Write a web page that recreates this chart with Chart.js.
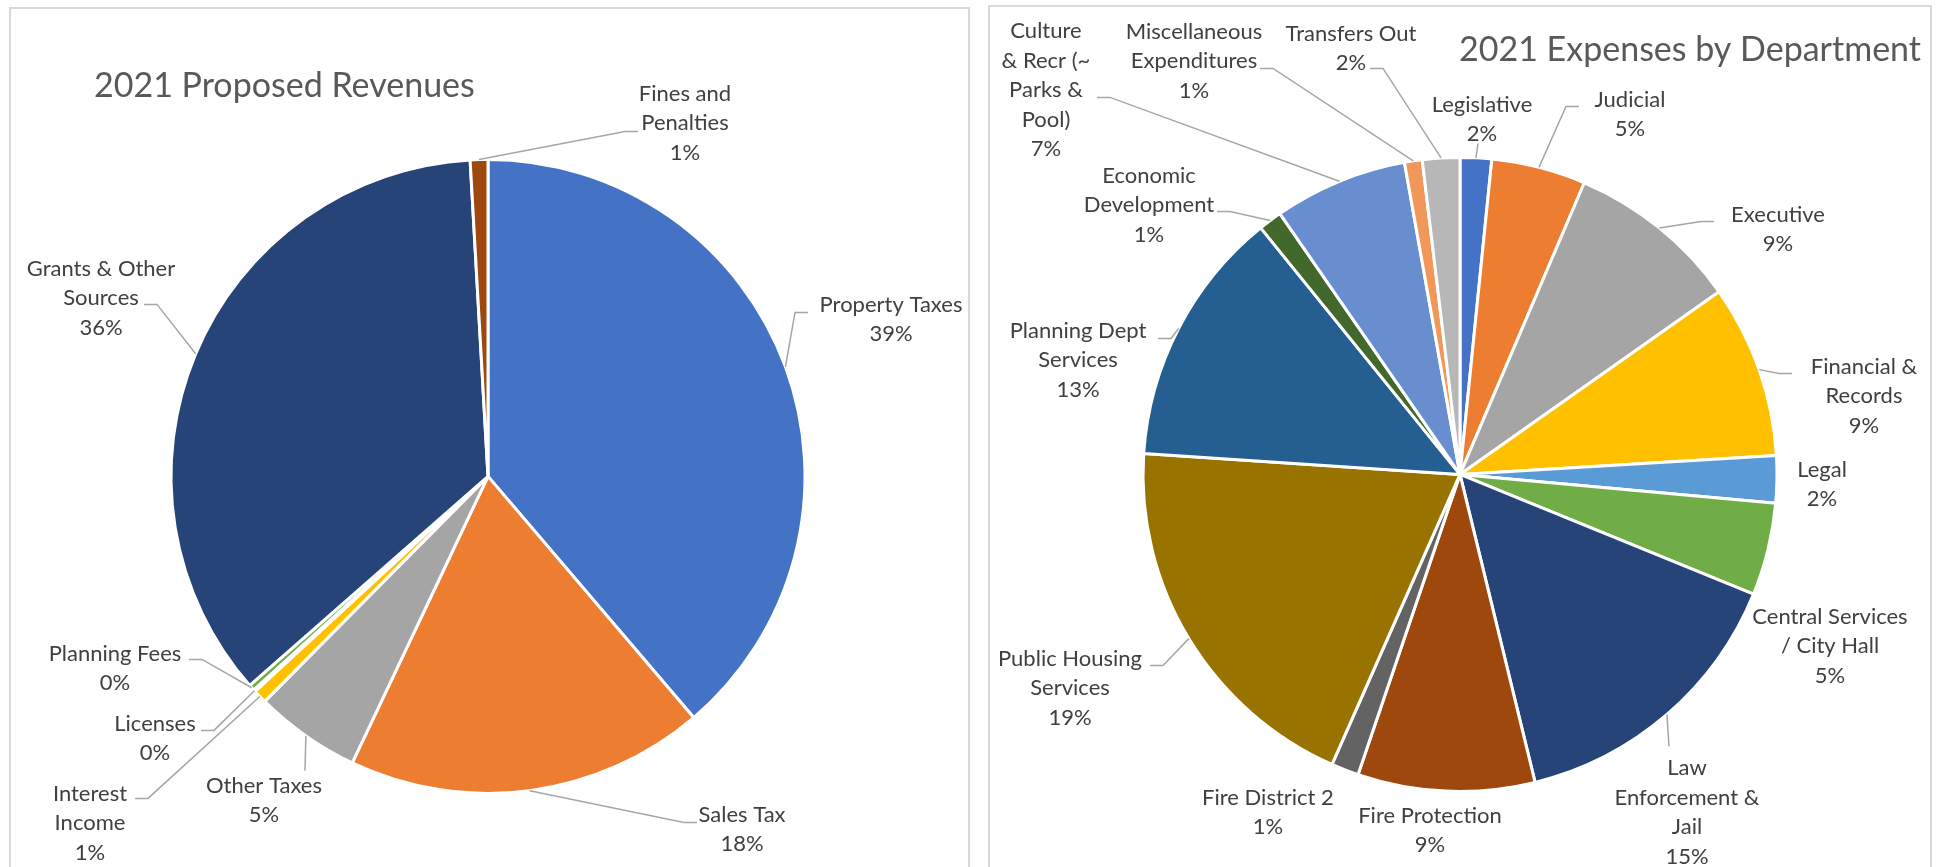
<!DOCTYPE html>
<html>
<head>
<meta charset="utf-8">
<script src="https://cdn.jsdelivr.net/npm/chart.js@4.4.1/dist/chart.umd.min.js"></script>
<style>
  html, body { margin: 0; padding: 0; background: #fff; overflow: hidden; }
  .panel { position: absolute; border: 2px solid #d9d9d9; border-bottom: none; box-sizing: border-box; }
  canvas { position: absolute; top: 0; }
</style>
</head>
<body>
<div class="panel" style="left:9px; top:7px; width:961px; height:870px;"></div>
<div class="panel" style="left:988px; top:5px; width:944px; height:870px;"></div>
<canvas id="revenueChart" width="978" height="867" style="left:0"></canvas>
<canvas id="expenseChart" width="961" height="867" style="left:978px"></canvas>
<script>
(function() {
  'use strict';

  // 2021 Proposed Revenues (share of total)
  var revenueCategories = [
    'Property Taxes', 'Sales Tax', 'Other Taxes', ['Interest', 'Income'],
    'Licenses', 'Planning Fees', ['Grants & Other', 'Sources'], ['Fines and', 'Penalties']
  ];
  var revenueValues = [38.8, 18.3, 5.4, 0.7, 0.1, 0.3, 35.6, 0.9];
  var revenueColors = ['#4472C4', '#ED7D31', '#A5A5A5', '#FFC000', '#5B9BD5', '#70AD47', '#264478', '#9E480E'];

  // 2021 Expenses by Department
  var expenseCategories = [
    'Legislative', 'Judicial', 'Executive', ['Financial &', 'Records'], 'Legal',
    ['Central Services', '/ City Hall'], ['Law', 'Enforcement &', 'Jail'], 'Fire Protection',
    'Fire District 2', ['Public Housing', 'Services'], ['Planning Dept', 'Services'],
    ['Economic', 'Development'], ['Culture', '& Recr (~', 'Parks &', 'Pool)'],
    ['Miscellaneous', 'Expenditures'], 'Transfers Out'
  ];
  var expenseValues = [1.6, 4.8, 8.8, 8.8, 2.4, 4.7, 15.0, 9.0, 1.4, 19.4, 13.1, 1.2, 6.8, 0.9, 1.9];
  var expenseColors = ['#4472C4', '#ED7D31', '#A5A5A5', '#FFC000', '#5B9BD5', '#70AD47', '#264478',
    '#9E480E', '#636363', '#997300', '#255E91', '#43682B', '#698ED0', '#F1975A', '#B7B7B7'];

  // label block centre [dx, dy] from pie centre, plus optional leader attach point [ax, ay]
  var revenuePlaces = [
    [403, -157, 320, -164],
    [254, 353, 209, 346],
    [-224, 324, -183, 294],
    [-398, 347, -353, 322],
    [-333, 262, -287, 254],
    [-373, 192, -299, 183],
    [-387, -178, -344, -172],
    [197, -353, 150, -345]
  ];
  var expensePlaces = [
    [22, -355, 18, -331],
    [170, -360, 119, -368],
    [318, -245, 254, -253],
    [404, -78, 332, -101],
    [362, 10],
    [370, 172],
    [227, 338, 209, 272],
    [-30, 356],
    [-192, 338],
    [-390, 214, -310, 191],
    [-382, -114, -302, -136],
    [-311, -269, -243, -263],
    [-414, -384, -363, -377],
    [-266, -413, -200, -406],
    [-109, -426, -90, -406]
  ];

  var calloutPlugin = {
    id: 'callouts',
    afterDatasetsDraw: function(chart, args, opts) {
      var ctx = chart.ctx;
      var meta = chart.getDatasetMeta(0);
      var data = chart.data.datasets[0].data;
      var total = data.reduce(function(a, b) { return a + b; }, 0);
      ctx.save();
      ctx.font = opts.font;
      ctx.textAlign = 'center';
      ctx.textBaseline = 'middle';
      meta.data.forEach(function(arc, i) {
        var p = arc.getProps(['x', 'y', 'startAngle', 'endAngle', 'outerRadius'], true);
        var spot = opts.places[i];
        var lines = [].concat(chart.data.labels[i], Math.round(data[i] / total * 100) + '%');
        var tx = p.x + spot[0];
        var top = p.y + spot[1] - (lines.length - 1) * opts.lineHeight / 2;
        ctx.fillStyle = opts.color;
        lines.forEach(function(s, k) {
          ctx.fillText(s, tx, top + k * opts.lineHeight);
        });
        if (spot.length > 2) {
          var mid = (p.startAngle + p.endAngle) / 2;
          var ex = p.x + Math.cos(mid) * p.outerRadius;
          var ey = p.y + Math.sin(mid) * p.outerRadius;
          var ax = p.x + spot[2], ay = p.y + spot[3];
          ctx.strokeStyle = opts.lineColor;
          ctx.lineWidth = 1.5;
          ctx.beginPath();
          ctx.moveTo(ex, ey);
          if (Math.abs(ex - ax) > 15) {
            ctx.lineTo(ax + (ex > ax ? 13 : -13), ay);
          }
          ctx.lineTo(ax, ay);
          ctx.stroke();
        }
      });
      ctx.restore();
    }
  };

  function makePie(id, title, align, padding, titlePad, labels, values, colors, places) {
    return new Chart(document.getElementById(id), {
      type: 'pie',
      data: {
        labels: labels,
        datasets: [{
          data: values,
          backgroundColor: colors,
          borderColor: '#ffffff',
          borderWidth: 3
        }]
      },
      plugins: [calloutPlugin],
      options: {
        responsive: false,
        animation: false,
        radius: 317,
        layout: { padding: padding },
        plugins: {
          legend: { display: false },
          tooltip: { enabled: false },
          title: {
            display: true,
            text: title,
            align: align,
            color: '#595959',
            font: { family: 'Lato', size: 34, weight: 'normal', lineHeight: 1.2 },
            padding: titlePad
          },
          callouts: {
            places: places,
            font: '22px Lato',
            lineHeight: 29.5,
            color: '#404040',
            lineColor: '#A6A6A6'
          }
        }
      }
    });
  }

  makePie('revenueChart', '2021 Proposed Revenues', 'start',
    { left: 94, right: 96, top: 0, bottom: 41 }, { top: 66, bottom: 20 },
    revenueCategories, revenueValues, revenueColors, revenuePlaces);

  makePie('expenseChart', '2021 Expenses by Department', 'end',
    { left: 21, right: 18, top: 0, bottom: 9 }, { top: 30, bottom: 20 },
    expenseCategories, expenseValues, expenseColors, expensePlaces);
}());
</script>
</body>
</html>
